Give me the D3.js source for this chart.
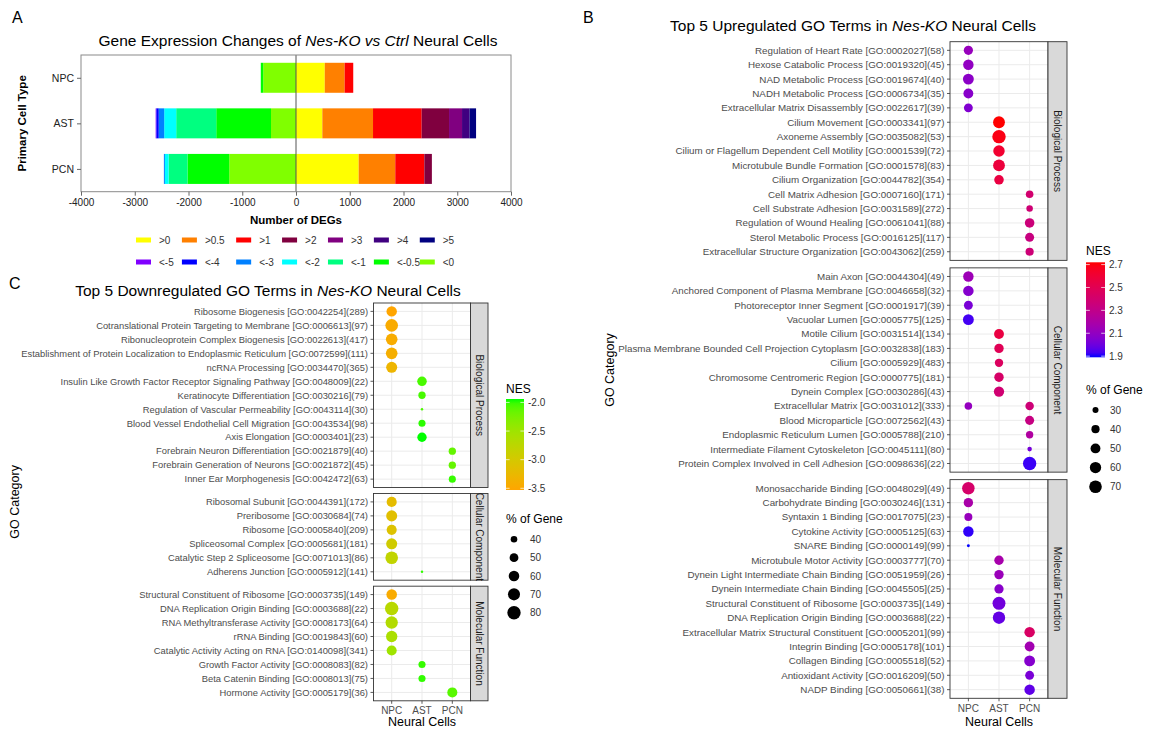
<!DOCTYPE html>
<html><head><meta charset="utf-8">
<script src="https://cdn.jsdelivr.net/npm/d3@7"></script>
<style>
body{margin:0;background:#fff;}
svg{display:block;font-family:"Liberation Sans",Arial,Helvetica,sans-serif;}
</style></head><body>
<svg id="chart" width="1160" height="730"></svg>
<script>
// ---------------- DATA ----------------
const cellTypes = ["NPC", "AST", "PCN"];
const upBins = [">0", ">0.5", ">1", ">2", ">3", ">4", ">5"];
const downBins = ["<-5", "<-4", "<-3", "<-2", "<-1", "<-0.5", "<0"];
const upColors = ["#FFFF00", "#FF8000", "#FF0000", "#80003F", "#800080", "#400080", "#000080"];
const downColors = ["#8000FF", "#0000FF", "#0080FF", "#00FFFF", "#00FF80", "#00FF00", "#80FF00"];
// counts per bin, order of upBins
const upNPC = [535, 370, 160, 0, 0, 0, 0];
const upAST = [490, 943, 905, 509, 242, 140, 121];
const upPCN = [1166, 681, 541, 140, 0, 0, 0];
// counts per bin, order of downBins
const downNPC = [0, 0, 0, 0, 0, 45, 610];
const downAST = [12, 45, 102, 223, 745, 1019, 465];
const downPCN = [0, 0, 19, 70, 350, 777, 1242];
const degTicks = [-4000, -3000, -2000, -1000, 0, 1000, 2000, 3000, 4000];

const goFacets = ["Biological Process", "Cellular Component", "Molecular Function"];

// Panel B: upregulated
const upBPTerm = ["Regulation of Heart Rate [GO:0002027](58)","Hexose Catabolic Process [GO:0019320](45)","NAD Metabolic Process [GO:0019674](40)","NADH Metabolic Process [GO:0006734](35)","Extracellular Matrix Disassembly [GO:0022617](39)","Cilium Movement [GO:0003341](97)","Axoneme Assembly [GO:0035082](53)","Cilium or Flagellum Dependent Cell Motility [GO:0001539](72)","Microtubule Bundle Formation [GO:0001578](83)","Cilium Organization [GO:0044782](354)","Cell Matrix Adhesion [GO:0007160](171)","Cell Substrate Adhesion [GO:0031589](272)","Regulation of Wound Healing [GO:0061041](88)","Sterol Metabolic Process [GO:0016125](117)","Extracellular Structure Organization [GO:0043062](259)"];
const upBPCell = ["NPC","NPC","NPC","NPC","NPC","AST","AST","AST","AST","AST","PCN","PCN","PCN","PCN","PCN"];
const upBPNES = [2.12,2.10,2.08,2.07,2.05,2.72,2.69,2.62,2.58,2.56,2.40,2.38,2.36,2.34,2.37];
const upBPPct = [46,54,57,50,44,64,77,61,64,48,37,32,48,45,40];

const upCCTerm = ["Main Axon [GO:0044304](49)","Anchored Component of Plasma Membrane [GO:0046658](32)","Photoreceptor Inner Segment [GO:0001917](39)","Vacuolar Lumen [GO:0005775](125)","Motile Cilium [GO:0031514](134)","Plasma Membrane Bounded Cell Projection Cytoplasm [GO:0032838](183)","Cilium [GO:0005929](483)","Chromosome Centromeric Region [GO:0000775](181)","Dynein Complex [GO:0030286](43)","Extracellular Matrix [GO:0031012](333)","Extracellular Matrix [GO:0031012](333)","Blood Microparticle [GO:0072562](43)","Endoplasmic Reticulum Lumen [GO:0005788](210)","Intermediate Filament Cytoskeleton [GO:0045111](80)","Protein Complex Involved in Cell Adhesion [GO:0098636](22)"];
const upCCCell = ["NPC","NPC","NPC","NPC","AST","AST","AST","AST","AST","NPC","PCN","PCN","PCN","PCN","PCN"];
const upCCNES = [2.14,2.06,2.03,1.93,2.56,2.49,2.46,2.43,2.39,2.11,2.37,2.33,2.22,2.02,1.92];
const upCCPct = [54,54,44,57,50,47,41,47,53,37,42,45,36,25,76];

const upMFTerm = ["Monosaccharide Binding [GO:0048029](49)","Carbohydrate Binding [GO:0030246](131)","Syntaxin 1 Binding [GO:0017075](23)","Cytokine Activity [GO:0005125](63)","SNARE Binding [GO:0000149](99)","Microtubule Motor Activity [GO:0003777](70)","Dynein Light Intermediate Chain Binding [GO:0051959](26)","Dynein Intermediate Chain Binding [GO:0045505](25)","Structural Constituent of Ribosome [GO:0003735](149)","DNA Replication Origin Binding [GO:0003688](22)","Extracellular Matrix Structural Constituent [GO:0005201](99)","Integrin Binding [GO:0005178](101)","Collagen Binding [GO:0005518](52)","Antioxidant Activity [GO:0016209](50)","NADP Binding [GO:0050661](38)"];
const upMFCell = ["NPC","NPC","NPC","NPC","NPC","AST","AST","AST","AST","AST","PCN","PCN","PCN","PCN","PCN"];
const upMFNES = [2.42,2.19,2.12,1.91,1.89,2.18,2.13,2.07,2.01,1.98,2.44,2.16,2.06,2.03,1.97];
const upMFPct = [69,47,39,54,21,47,47,46,73,68,54,50,57,44,54];

const upNESBreaks = [1.9, 2.1, 2.3, 2.5, 2.7];
const upPctBreaks = [30, 40, 50, 60, 70];

// Panel C: downregulated
const dnBPTerm = ["Ribosome Biogenesis [GO:0042254](289)","Cotranslational Protein Targeting to Membrane [GO:0006613](97)","Ribonucleoprotein Complex Biogenesis [GO:0022613](417)","Establishment of Protein Localization to Endoplasmic Reticulum [GO:0072599](111)","ncRNA Processing [GO:0034470](365)","Insulin Like Growth Factor Receptor Signaling Pathway [GO:0048009](22)","Keratinocyte Differentiation [GO:0030216](79)","Regulation of Vascular Permeability [GO:0043114](30)","Blood Vessel Endothelial Cell Migration [GO:0043534](98)","Axis Elongation [GO:0003401](23)","Forebrain Neuron Differentiation [GO:0021879](40)","Forebrain Generation of Neurons [GO:0021872](45)","Inner Ear Morphogenesis [GO:0042472](63)"];
const dnBPCell = ["NPC","NPC","NPC","NPC","NPC","AST","AST","AST","AST","AST","PCN","PCN","PCN"];
const dnBPNES = [-3.53,-3.45,-3.44,-3.40,-3.30,-2.05,-2.04,-2.06,-1.98,-1.94,-2.15,-2.15,-2.00];
const dnBPPct = [59,74,67,67,63,54,43,29,42,53,43,43,42];

const dnCCTerm = ["Ribosomal Subunit [GO:0044391](172)","Preribosome [GO:0030684](74)","Ribosome [GO:0005840](209)","Spliceosomal Complex [GO:0005681](181)","Catalytic Step 2 Spliceosome [GO:0071013](86)","Adherens Junction [GO:0005912](141)"];
const dnCCCell = ["NPC","NPC","NPC","NPC","NPC","AST"];
const dnCCNES = [-3.20,-3.15,-3.10,-2.95,-2.80,-1.99];
const dnCCPct = [57,63,57,63,74,29];

const dnMFTerm = ["Structural Constituent of Ribosome [GO:0003735](149)","DNA Replication Origin Binding [GO:0003688](22)","RNA Methyltransferase Activity [GO:0008173](64)","rRNA Binding [GO:0019843](60)","Catalytic Activity Acting on RNA [GO:0140098](341)","Growth Factor Activity [GO:0008083](82)","Beta Catenin Binding [GO:0008013](75)","Hormone Activity [GO:0005179](36)"];
const dnMFCell = ["NPC","NPC","NPC","NPC","NPC","AST","AST","PCN"];
const dnMFNES = [-3.45,-2.72,-2.66,-2.60,-2.50,-2.00,-1.99,-2.10];
const dnMFPct = [60,80,72,65,57,42,42,57];

const dnNESBreaks = [-3.5, -3.0, -2.5, -2.0];
const dnPctBreaks = [40, 50, 60, 70, 80];

// ---------------- DRAW ----------------
const svg = d3.select("#chart");
const FONT = '"Liberation Sans",Arial,Helvetica,sans-serif';

function label(txt, x, y, size, opts = {}) {
  const t = svg.append("text").attr("x", x).attr("y", y).attr("font-size", size)
    .attr("fill", opts.fill || "#000").attr("text-anchor", opts.anchor || "start");
  if (opts.weight) t.attr("font-weight", opts.weight);
  if (opts.rotate) t.attr("transform", `rotate(${opts.rotate},${x},${y})`);
  if (opts.baseline) t.attr("dominant-baseline", opts.baseline);
  if (Array.isArray(txt)) txt.forEach(([s, it]) => t.append("tspan").text(s).attr("font-style", it ? "italic" : "normal"));
  else t.text(txt);
  return t;
}

// Panel labels
label("A", 12, 23, 16);
label("B", 583, 23, 16);
label("C", 9, 289, 16);

// ---- Panel A ----
(function () {
  const L = 81, R = 511, T = 55, B = 191.7;
  const x = d3.scaleLinear().domain([-4000, 4000]).range([L, R]);
  const y = d3.scalePoint().domain(cellTypes).range([T, B]).padding(0.5);
  const barH = 30;
  const g = svg.append("g");
  const upS = { NPC: upNPC, AST: upAST, PCN: upPCN };
  const dnS = { NPC: downNPC, AST: downAST, PCN: downPCN };
  cellTypes.forEach(ct => {
    let cum = 0;
    upS[ct].forEach((v, i) => {
      if (v > 0) g.append("rect").attr("x", x(cum)).attr("width", x(cum + v) - x(cum))
        .attr("y", y(ct) - barH / 2).attr("height", barH).attr("fill", upColors[i]);
      cum += v;
    });
    cum = 0;
    for (let i = downBins.length - 1; i >= 0; i--) {
      const v = dnS[ct][i];
      if (v > 0) g.append("rect").attr("x", x(-(cum + v))).attr("width", x(-cum) - x(-(cum + v)))
        .attr("y", y(ct) - barH / 2).attr("height", barH).attr("fill", downColors[i]);
      cum += v;
    }
  });
  g.append("line").attr("x1", x(0)).attr("x2", x(0)).attr("y1", T).attr("y2", B).attr("stroke", "#555").attr("stroke-width", 1);
  g.append("rect").attr("x", L).attr("y", T).attr("width", R - L).attr("height", B - T)
    .attr("fill", "none").attr("stroke", "#8a8a8a").attr("stroke-width", 1);
  const ax = svg.append("g").attr("transform", `translate(0,${B})`)
    .call(d3.axisBottom(x).tickValues(degTicks).tickFormat(d => String(d)).tickSize(4).tickPadding(3));
  ax.select(".domain").remove();
  ax.selectAll("line").attr("stroke", "#666");
  ax.selectAll("text").attr("font-size", 10).attr("fill", "#222").attr("font-family", FONT);
  const ay = svg.append("g").attr("transform", `translate(${L},0)`)
    .call(d3.axisLeft(y).tickSize(4).tickPadding(3));
  ay.select(".domain").remove();
  ay.selectAll("line").attr("stroke", "#666");
  ay.selectAll("text").attr("font-size", 10.5).attr("fill", "#222").attr("font-family", FONT);

  label([["Gene Expression Changes of ", false], ["Nes-KO vs Ctrl", true], [" Neural Cells", false]], (L + R) / 2 + 2, 46, 15.5, { anchor: "middle" });
  label("Number of DEGs", (L + R) / 2, 224, 11.5, { anchor: "middle", weight: "bold" });
  label("Primary Cell Type", 26, (T + B) / 2, 11.5, { anchor: "middle", weight: "bold", rotate: -90 });

  // legend: two rows, column positions driven by first-row label widths
  const sw = 15, sh = 5, lx0 = 136, gapLab = 8, gapItem = 11.5;
  const rows = [{ bins: upBins, cols: upColors, y: 240 }, { bins: downBins, cols: downColors, y: 262 }];
  const colX = [lx0];
  upBins.forEach((b, i) => {
    const t = label(b, 0, -100, 10);
    const w = t.node().getComputedTextLength();
    t.remove();
    colX.push(colX[i] + sw + gapLab + w + gapItem);
  });
  rows.forEach(r => {
    r.bins.forEach((b, i) => {
      svg.append("rect").attr("x", colX[i]).attr("y", r.y - sh / 2).attr("width", sw).attr("height", sh).attr("fill", r.cols[i]);
      label(b, colX[i] + sw + gapLab, r.y, 10, { baseline: "central", fill: "#333" });
    });
  });
})();

// ---- Dot panels ----
function buildFacets(list) {
  return goFacets.map((name, k) => {
    const [terms, cells, nes, pct] = list[k];
    const dots = terms.map((t, i) => ({ term: t, cell: cells[i], nes: nes[i], pct: pct[i] }));
    const rows = Array.from(new Set(terms));
    return { name, rows, dots };
  });
}

function dotPanel(o) {
  const facets = o.facets;
  const units = facets.map(f => f.rows.length + 0.2);
  const step = (o.bottom - o.top - o.gap * (facets.length - 1)) / d3.sum(units);
  const x = d3.scalePoint().domain(cellTypes).range([o.left, o.right]).padding(0.6);
  let y0 = o.top;
  const g = svg.append("g");
  facets.forEach((f, i) => {
    const h = units[i] * step;
    const y = d3.scalePoint().domain(f.rows).range([y0, y0 + h]).padding(0.6);
    g.append("rect").attr("x", o.left).attr("y", y0).attr("width", o.right - o.left).attr("height", h).attr("fill", "#fff");
    g.selectAll(null).data(cellTypes).enter().append("line")
      .attr("x1", d => x(d)).attr("x2", d => x(d)).attr("y1", y0).attr("y2", y0 + h)
      .attr("stroke", "#EBEBEB").attr("stroke-width", 1);
    g.selectAll(null).data(f.rows).enter().append("line")
      .attr("x1", o.left).attr("x2", o.right).attr("y1", d => y(d)).attr("y2", d => y(d))
      .attr("stroke", "#EBEBEB").attr("stroke-width", 1);
    g.selectAll(null).data(f.dots).enter().append("circle")
      .attr("cx", d => x(d.cell)).attr("cy", d => y(d.term)).attr("r", d => o.r(d.pct))
      .attr("fill", d => o.color(d.nes));
    g.append("rect").attr("x", o.left).attr("y", y0).attr("width", o.right - o.left).attr("height", h)
      .attr("fill", "none").attr("stroke", "#333").attr("stroke-width", 0.9);
    // y axis
    g.selectAll(null).data(f.rows).enter().append("line")
      .attr("x1", o.left - 3).attr("x2", o.left).attr("y1", d => y(d)).attr("y2", d => y(d))
      .attr("stroke", "#333").attr("stroke-width", 0.8);
    g.selectAll(null).data(f.rows).enter().append("text")
      .attr("x", o.left - 5.5).attr("y", d => y(d)).attr("dy", "0.35em").attr("text-anchor", "end")
      .attr("font-size", o.labelSize).attr("fill", "#4D4D4D").text(d => d);
    // strip
    g.append("rect").attr("x", o.right).attr("y", y0).attr("width", o.stripW).attr("height", h)
      .attr("fill", "#D9D9D9").attr("stroke", "#333").attr("stroke-width", 0.9);
    const cx = o.right + o.stripW / 2, cy = y0 + h / 2;
    g.append("text").attr("x", cx).attr("y", cy).attr("transform", `rotate(90,${cx},${cy})`)
      .attr("text-anchor", "middle").attr("dy", "0.35em").attr("font-size", 10).attr("fill", "#1A1A1A").text(f.name);
    y0 += h + o.gap;
  });
  const yb = o.bottom;
  g.selectAll(null).data(cellTypes).enter().append("line")
    .attr("x1", d => x(d)).attr("x2", d => x(d)).attr("y1", yb).attr("y2", yb + 3)
    .attr("stroke", "#333").attr("stroke-width", 0.8);
  g.selectAll(null).data(cellTypes).enter().append("text")
    .attr("x", d => x(d)).attr("y", yb + o.xLabY).attr("dy", "0.35em").attr("text-anchor", "middle")
    .attr("font-size", 10).attr("fill", "#4D4D4D").text(d => d);
  label("Neural Cells", (o.left + o.right) / 2, yb + o.xTitleY, 12.5, { anchor: "middle", baseline: "central" });
  label("GO Category", o.goX, (o.top + o.bottom) / 2, 12.5, { anchor: "middle", baseline: "central", rotate: -90 });
  label(o.title, o.titleX, o.titleY, 15.5, { anchor: "middle" });
}

function colorLegend(o) {
  const id = "grad" + o.id;
  const grad = svg.append("defs").append("linearGradient").attr("id", id)
    .attr("x1", 0).attr("y1", 1).attr("x2", 0).attr("y2", 0);
  const [lo, hi] = o.color.domain();
  d3.range(0, 1.0001, 0.05).forEach(t => grad.append("stop").attr("offset", t).attr("stop-color", o.color(lo + t * (hi - lo))));
  label("NES", o.x, o.titleY, 12, { baseline: "central" });
  svg.append("rect").attr("x", o.x).attr("y", o.y0).attr("width", o.w).attr("height", o.y1 - o.y0).attr("fill", `url(#${id})`);
  const ys = d3.scaleLinear().domain([lo, hi]).range([o.y1, o.y0]);
  o.breaks.forEach(b => {
    svg.append("line").attr("x1", o.x).attr("x2", o.x + o.w * 0.2).attr("y1", ys(b)).attr("y2", ys(b)).attr("stroke", "#fff").attr("stroke-width", 0.7);
    svg.append("line").attr("x1", o.x + o.w * 0.8).attr("x2", o.x + o.w).attr("y1", ys(b)).attr("y2", ys(b)).attr("stroke", "#fff").attr("stroke-width", 0.7);
    label(d3.format(".1f")(b).replace("\u2212", "-"), o.x + o.w + 4, ys(b), 10, { baseline: "central", fill: "#333" });
  });
}

function sizeLegend(o) {
  label("% of Gene", o.x, o.titleY, 12, { baseline: "central" });
  o.breaks.forEach((b, i) => {
    const yy = o.titleY + o.first + i * o.step;
    svg.append("circle").attr("cx", o.cx).attr("cy", yy).attr("r", o.r(b)).attr("fill", "#000");
    label(String(b), o.lx, yy, 10, { baseline: "central", fill: "#333" });
  });
}

// Panel B
(function () {
  const facets = buildFacets([[upBPTerm, upBPCell, upBPNES, upBPPct], [upCCTerm, upCCCell, upCCNES, upCCPct], [upMFTerm, upMFCell, upMFNES, upMFPct]]);
  const allN = facets.flatMap(f => f.dots.map(d => d.nes));
  const color = d3.scaleLinear().domain(d3.extent(allN)).range(["#0000FF", "#FF0000"]).interpolate(d3.interpolateLab);
  const area = d3.scaleLinear().domain([30, 70]).range([9, 39.7]);
  const r = p => Math.sqrt(Math.max(1.4, area(p)));
  dotPanel({ facets, left: 950, right: 1048, top: 41.7, bottom: 698.3, gap: 7.5, stripW: 19, labelSize: 9.8,
    color, r, xLabY: 10, xTitleY: 23.5, goX: 610,
    title: [["Top 5 Upregulated GO Terms in ", false], ["Nes-KO", true], [" Neural Cells", false]], titleX: 853, titleY: 31 });
  colorLegend({ id: "B", color, x: 1086, w: 19, y0: 262.3, y1: 357.3, titleY: 251, breaks: upNESBreaks });
  sizeLegend({ x: 1086, titleY: 390, first: 20, step: 19.2, cx: 1095.5, lx: 1110, r, breaks: upPctBreaks });
})();

// Panel C
(function () {
  const facets = buildFacets([[dnBPTerm, dnBPCell, dnBPNES, dnBPPct], [dnCCTerm, dnCCCell, dnCCNES, dnCCPct], [dnMFTerm, dnMFCell, dnMFNES, dnMFPct]]);
  const allN = facets.flatMap(f => f.dots.map(d => d.nes));
  const color = d3.scaleLinear().domain(d3.extent(allN)).range(["#FFA500", "#00FF00"]).interpolate(d3.interpolateLab);
  const area = d3.scaleLinear().domain([40, 80]).range([10.9, 44.9]);
  const r = p => Math.sqrt(Math.max(1.4, area(p)));
  dotPanel({ facets, left: 373.5, right: 470.5, top: 303, bottom: 700.8, gap: 6, stripW: 17.5, labelSize: 9.4,
    color, r, xLabY: 9.5, xTitleY: 21.5, goX: 15,
    title: [["Top 5 Downregulated GO Terms in ", false], ["Nes-KO", true], [" Neural Cells", false]], titleX: 268, titleY: 296 });
  colorLegend({ id: "C", color, x: 506, w: 18, y0: 399, y1: 490, titleY: 389, breaks: dnNESBreaks });
  sizeLegend({ x: 506, titleY: 519.3, first: 20, step: 18.35, cx: 514, lx: 530, r, breaks: dnPctBreaks });
})();
</script></body></html>
